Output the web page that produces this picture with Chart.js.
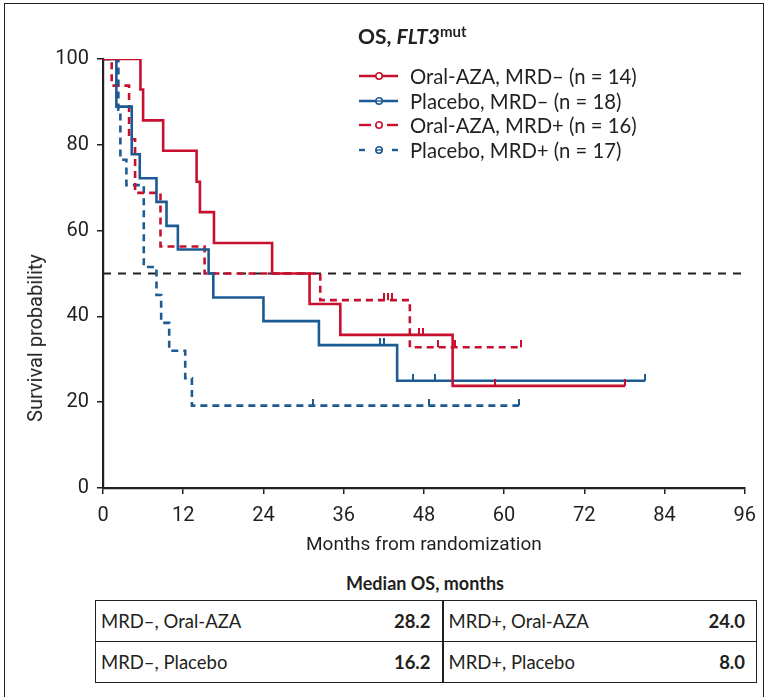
<!DOCTYPE html>
<html lang="en">
<head>
<meta charset="UTF-8">
<title>OS, FLT3mut</title>
<script src="https://cdn.jsdelivr.net/npm/chart.js"></script>
<style>
    body {
        margin: 0;
        background: #fff;
        font-family: Lato, "Noto Sans", sans-serif;
        color: #231f20;
    }
    #frame {
        position: absolute;
        left: 4px;
        top: 3px;
        width: 760px;
        height: 700px;
        box-sizing: border-box;
        border: 1.5px solid #231f20;
        border-bottom: none;
    }
    #km {
        position: absolute;
        left: 0;
        top: 0;
    }
    #ytitle {
        position: absolute;
        left: 35px;
        top: 338px;
        transform: translate(-50%, -50%) rotate(-90deg);
        white-space: nowrap;
        font-family: Roboto, sans-serif;
        font-size: 20px;
    }
    #title {
        position: absolute;
        left: 358px;
        top: 22px;
        font-weight: 700;
        font-size: 21px;
    }
    #title sup {
        font-size: 15px;
        vertical-align: 7px;
    }
    #legend {
        position: absolute;
        left: 359px;
        top: 64px;
        font-size: 20.3px;
    }
    #legend div {
        height: 24.6px;
        display: flex;
        align-items: center;
    }
    #legend svg {
        margin-right: 12px;
    }
    #medTitle {
        position: absolute;
        left: 95px;
        width: 660px;
        top: 572px;
        text-align: center;
        font-weight: 700;
        font-size: 18px;
    }
    table {
        position: absolute;
        left: 95px;
        top: 600px;
        width: 661px;
        border-collapse: collapse;
        table-layout: fixed;
        font-size: 18.5px;
    }
    td {
        border: 1.5px solid #231f20;
        height: 40px;
        padding: 0 5px;
        white-space: nowrap;
    }
    td.l { border-right: none; }
    td.v {
        border-left: none;
        font-weight: 700;
        text-align: right;
        padding-right: 11px;
        border-right: 2px solid #231f20;
    }
    td.last { border-right: 1.5px solid #231f20; }
</style>
</head>
<body>
<div id="frame"></div>
<canvas id="km" width="766" height="570"></canvas>
<div id="ytitle">Survival probability</div>

<div id="title">OS, <i>FLT3</i><sup>mut</sup></div>
<div id="legend"></div>

<div id="medTitle">Median OS, months</div>
<table id="medTable">
    <colgroup>
        <col style="width:270px"><col style="width:77px">
        <col style="width:240px"><col style="width:74px">
    </colgroup>
</table>

<script>
    // Kaplan-Meier steps (months, survival %)
    const oralNegTimes = [0, 5.6, 6.0, 9.0, 14.0, 14.5, 16.6, 25.3, 30.9, 35.5, 52.3, 78.1];
    const oralNegSurv  = [100, 92.9, 85.7, 78.6, 71.4, 64.3, 57.1, 50.0, 42.9, 35.7, 23.8, 23.8];
    const oralNegCens  = [47.3, 47.8, 58.6, 78.1];

    const placNegTimes = [0, 2.0, 4.3, 5.5, 8.0, 9.5, 11.2, 15.8, 16.5, 24.0, 32.3, 44.0, 81.1];
    const placNegSurv  = [100, 88.9, 77.8, 72.2, 66.7, 61.1, 55.6, 50.0, 44.4, 38.9, 33.3, 25.0, 25.0];
    const placNegCens  = [41.4, 42.0, 46.3, 49.7, 81.1];

    const oralPosTimes = [0, 1.3, 3.9, 4.8, 8.6, 15.2, 32.5, 45.9, 62.5];
    const oralPosSurv  = [100, 93.8, 81.3, 68.8, 56.3, 50.0, 43.8, 32.8, 32.8];
    const oralPosCens  = [42.1, 42.7, 43.2, 50.1, 52.7, 62.5];

    const placPosTimes = [0, 2.3, 2.6, 3.5, 6.1, 8.0, 8.7, 9.9, 12.3, 13.3, 62.2];
    const placPosSurv  = [100, 88.2, 76.5, 70.6, 51.5, 45.0, 38.5, 32.0, 25.6, 19.2, 19.2];
    const placPosCens  = [31.4, 48.7, 62.2];

    const medianLevel = 50;
    const xTicks = [0, 12, 24, 36, 48, 60, 72, 84, 96];
    const yTicks = [0, 20, 40, 60, 80, 100];

    const seriesNames = ['Oral-AZA, MRD\u2013 (n = 14)', 'Placebo, MRD\u2013 (n = 18)',
                         'Oral-AZA, MRD+ (n = 16)', 'Placebo, MRD+ (n = 17)'];

    const medianLabels = [['MRD\u2013, Oral-AZA', 'MRD+, Oral-AZA'], ['MRD\u2013, Placebo', 'MRD+, Placebo']];
    const medianValues = [['28.2', '24.0'], ['16.2', '8.0']];

    const RED = '#c8102e';
    const BLUE = '#1c5a94';

    // survival value of the step curve at time t
    function survAt(times, surv, t) {
        let s = surv[0];
        for (let i = 0; i < times.length; i++) {
            if (times[i] <= t) s = surv[i];
        }
        return s;
    }

    function toPoints(times, surv) {
        return times.map((t, i) => ({ x: t, y: surv[i] }));
    }

    // small upward tick used for censored patients
    function censorMark(color) {
        const c = document.createElement('canvas');
        c.width = 2;
        c.height = 14;
        const g = c.getContext('2d');
        g.fillStyle = color;
        g.fillRect(0, 0, 2, 7);
        return c;
    }

    function curve(times, surv, color, dashed) {
        return {
            type: 'line',
            data: toPoints(times, surv),
            borderColor: color,
            borderWidth: 2.6,
            borderDash: dashed ? [7, 5] : [],
            stepped: 'before',
            pointRadius: 0,
            fill: false
        };
    }

    function censors(times, surv, cens, color) {
        return {
            type: 'scatter',
            data: cens.map(t => ({ x: t, y: survAt(times, surv, t) })),
            pointStyle: censorMark(color),
            pointRadius: 4,
            showLine: false
        };
    }

    const datasets = [
        curve(oralNegTimes, oralNegSurv, RED, false),
        censors(oralNegTimes, oralNegSurv, oralNegCens, RED),
        curve(placNegTimes, placNegSurv, BLUE, false),
        censors(placNegTimes, placNegSurv, placNegCens, BLUE),
        curve(oralPosTimes, oralPosSurv, RED, true),
        censors(oralPosTimes, oralPosSurv, oralPosCens, RED),
        curve(placPosTimes, placPosSurv, BLUE, true),
        censors(placPosTimes, placPosSurv, placPosCens, BLUE),
        {
            type: 'line',
            data: [{ x: xTicks[0], y: medianLevel }, { x: xTicks[xTicks.length - 1], y: medianLevel }],
            borderColor: '#231f20',
            borderWidth: 1.8,
            borderDash: [8, 7],
            pointRadius: 0
        }
    ];

    const tickFont = { family: 'Roboto, sans-serif', size: 20 };

    new Chart(document.getElementById('km'), {
        type: 'line',
        data: { datasets: datasets },
        options: {
            responsive: false,
            animation: false,
            layout: { padding: { left: 8, right: 18, top: 59, bottom: 0 } },
            plugins: {
                legend: { display: false },
                tooltip: { enabled: false }
            },
            scales: {
                x: {
                    type: 'linear',
                    min: 0,
                    max: 96,
                    afterBuildTicks: s => { s.ticks = xTicks.map(v => ({ value: v })); },
                    afterFit: s => { s.height = 82; },
                    ticks: { color: '#231f20', font: tickFont, padding: 10, maxRotation: 0 },
                    grid: { drawOnChartArea: false, tickLength: 6, color: '#231f20', lineWidth: 1.5 },
                    border: { display: true, color: '#231f20', width: 2.2 },
                    title: {
                        display: true,
                        text: 'Months from randomization',
                        color: '#231f20',
                        font: { family: 'Roboto, sans-serif', size: 19 },
                        padding: { top: 0, bottom: 13 }
                    }
                },
                y: {
                    min: 0,
                    max: 100,
                    afterBuildTicks: s => { s.ticks = yTicks.map(v => ({ value: v })); },
                    afterFit: s => { s.width = 95; },
                    ticks: { color: '#231f20', font: tickFont, padding: 8 },
                    grid: { drawOnChartArea: false, tickLength: 6, color: '#231f20', lineWidth: 1.5 },
                    border: { display: true, color: '#231f20', width: 2.2 },
                    title: { display: false }
                }
            }
        }
    });

    // legend with the same line styles as the curves
    const legendStyles = [
        { color: RED, segs: [[0, 39]], cross: false },
        { color: BLUE, segs: [[0, 39]], cross: true },
        { color: RED, segs: [[0, 12], [28, 39]], cross: false },
        { color: BLUE, segs: [[0, 6], [33, 39]], cross: true }
    ];
    const legend = document.getElementById('legend');
    seriesNames.forEach((name, i) => {
        const st = legendStyles[i];
        let svg = '<svg width="39" height="10">';
        st.segs.forEach(s => {
            svg += `<line x1="${s[0]}" y1="5" x2="${s[1]}" y2="5" stroke="${st.color}" stroke-width="2.4"/>`;
        });
        svg += `<circle cx="20" cy="5" r="3.2" fill="#fff" stroke="${st.color}" stroke-width="1.6"/>`;
        if (st.cross) svg += `<line x1="17" y1="5" x2="23" y2="5" stroke="${st.color}" stroke-width="1.4"/>`;
        svg += '</svg>';
        const row = document.createElement('div');
        row.innerHTML = svg + '<span>' + name + '</span>';
        legend.appendChild(row);
    });

    // median table
    const table = document.getElementById('medTable');
    medianLabels.forEach((row, r) => {
        const tr = document.createElement('tr');
        row.forEach((lab, c) => {
            const tl = document.createElement('td');
            tl.className = 'l';
            tl.textContent = lab;
            const tv = document.createElement('td');
            tv.className = c === row.length - 1 ? 'v last' : 'v';
            tv.textContent = medianValues[r][c];
            tr.appendChild(tl);
            tr.appendChild(tv);
        });
        table.appendChild(tr);
    });
</script>
</body>
</html>
